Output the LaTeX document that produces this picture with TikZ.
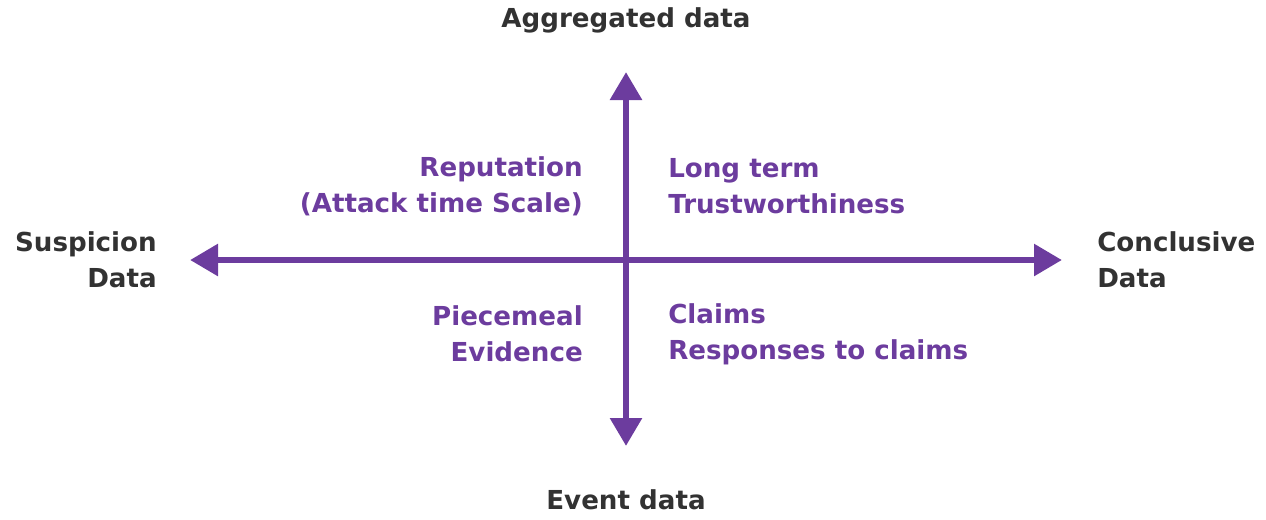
\documentclass[tikz,border=0pt]{standalone}
\usepackage{fontspec}
\setmainfont{DejaVu Sans}
\usepackage{tikz}
\usetikzlibrary{arrows.meta}
\definecolor{axispurple}{RGB}{108,60,158}
\definecolor{labelgray}{RGB}{50,50,50}

\begin{document}
\begin{tikzpicture}[x=0.75pt, y=-0.75pt,
    axis/.style={draw=axispurple, line width=5pt,
      {Triangle[length=21pt, width=23pt]}-{Triangle[length=21pt, width=23pt]}},
    pole/.style={text=labelgray, font=\bfseries\fontsize{19.6}{27}\selectfont, inner sep=0pt},
    quad/.style={text=axispurple, font=\bfseries\fontsize{19.6}{27}\selectfont, inner sep=0pt}]
  \useasboundingbox (0,0) rectangle (1266,519);

  % axis ends
  \coordinate (left) at (190,260);
  \coordinate (right) at (1062,260);
  \coordinate (top) at (626,72);
  \coordinate (bottom) at (626,446);

  % axis
  \draw[axis] (left) -- (right);
  \draw[axis] (bottom) -- (top);

  % poles
  \node[pole] (aggregated) at (626,20) {Aggregated data};
  \node[pole] (event) at (626,500) {Event data};
  \node[pole, anchor=east, align=right] (suspicion) at (157,260) {Suspicion\\Data};
  \node[pole, anchor=west, align=left] (conclusive) at (1097,260) {Conclusive\\Data};

  % quadrants
  \node[quad, anchor=east, align=right] (reputation) at (583,186) {Reputation\\(Attack time Scale)};
  \node[quad, anchor=west, align=left] (longterm) at (668,186) {Long term\\Trustworthiness};
  \node[quad, anchor=east, align=right] (piecemeal) at (583,334) {Piecemeal\\Evidence};
  \node[quad, anchor=west, align=left] (claims) at (668,334) {Claims\\Responses to claims};
\end{tikzpicture}
\end{document}
